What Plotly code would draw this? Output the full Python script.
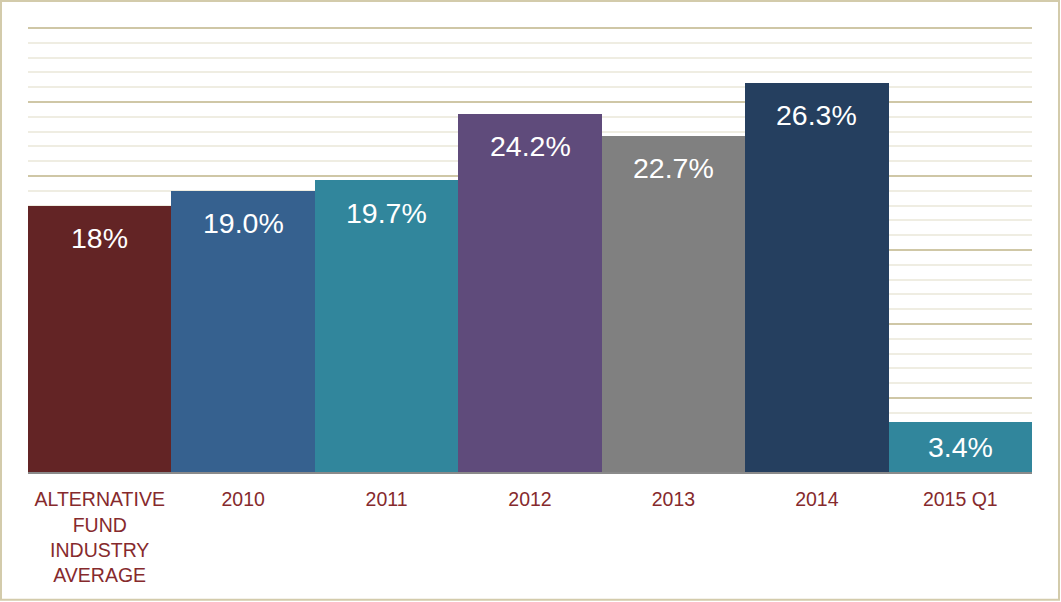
import plotly.graph_objects as go

# data
categories = ["ALTERNATIVE<br>FUND<br>INDUSTRY<br>AVERAGE", "2010", "2011", "2012", "2013", "2014", "2015 Q1"]
values = [18, 19.0, 19.7, 24.2, 22.7, 26.3, 3.4]
labels = ["18%", "19.0%", "19.7%", "24.2%", "22.7%", "26.3%", "3.4%"]
colors = ["#632425", "#36618f", "#31869c", "#5f4b7b", "#808080", "#253f5f", "#31869c"]

fig = go.Figure()
fig.add_trace(go.Bar(x=categories, y=values, marker_color=colors,
                     marker_line_width=0, hoverinfo="skip"))

# labels inside bars, near the top (centred when the bar is short)
for i, (v, t) in enumerate(zip(values, labels)):
    fig.add_annotation(x=i, y=max(v - 2.17, v / 2), text=t, showarrow=False,
                       yanchor="middle", font=dict(size=28.5, color="white"))

fig.update_layout(
    width=1061, height=602,
    margin=dict(l=28, r=29, t=26, b=130, autoexpand=False),
    paper_bgcolor="white", plot_bgcolor="white",
    font=dict(family="Liberation Sans, Arial, sans-serif"),
    bargap=0, showlegend=False,
    xaxis=dict(type="category", range=[-0.5, len(categories) - 0.5],
               showline=True, linecolor="#8a8a8a", linewidth=2,
               tickfont=dict(size=19.5, color="#862a2d"), ticks="", automargin=False,
               ticklabelstandoff=9, fixedrange=True),
    yaxis=dict(range=[0, 30.135], tick0=0, dtick=5, showticklabels=False, automargin=False,
               gridcolor="#cfc7a6", gridwidth=2, zeroline=False, fixedrange=True,
               minor=dict(dtick=1, showgrid=True, gridcolor="#efede2", gridwidth=2)),
)

# outer frame
fig.add_shape(type="rect", xref="paper", yref="paper",
              x0=-0.0269, x1=1.0269, y0=-0.2865, y1=1.0563,
              line=dict(color="#d3cbab", width=2), layer="below")

fig.write_html("out.html", config={"displayModeBar": False},
               post_script="document.body.style.margin='0';")
